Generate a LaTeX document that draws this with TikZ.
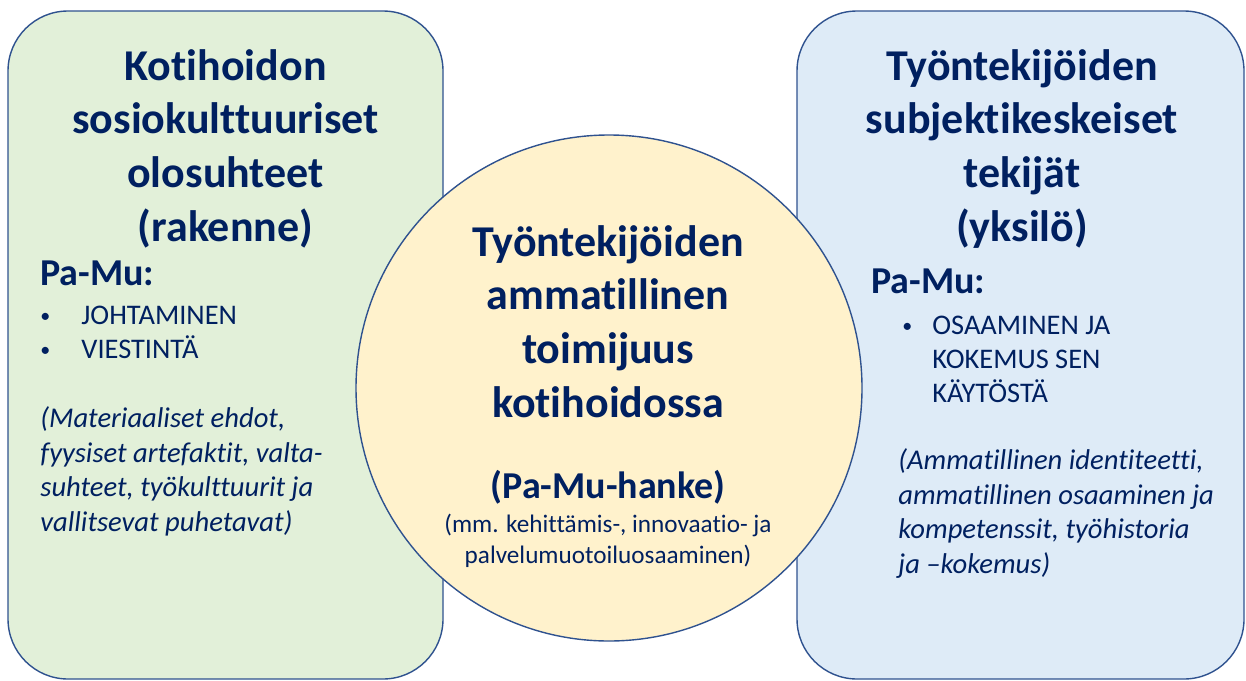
\documentclass[tikz,border=0pt]{standalone}
\usepackage{fontspec}
\setmainfont{Carlito}[Ligatures=NoCommon]
\usetikzlibrary{positioning}
\definecolor{navy}{HTML}{002060}
\definecolor{edge}{HTML}{2F528F}
\definecolor{greenfill}{HTML}{E2F0D9}
\definecolor{bluefill}{HTML}{DEEBF7}
\definecolor{ringfill}{HTML}{FFF2CC}
\newcommand{\dotmark}[1]{\makebox[#1][l]{\raisebox{1pt}{\fontsize{10}{10}\selectfont•}}}

\begin{document}
\begin{tikzpicture}[x=0.5pt,y=-0.5pt,
panel/.style={draw=edge,line width=0.7pt,rounded corners=30pt,inner sep=0pt},
ring/.style={circle,draw=edge,line width=0.7pt,fill=ringfill,inner sep=0pt,minimum size=253pt},
heading/.style={align=center,anchor=base,inner sep=0pt,text=navy,font=\fontsize{22}{26.8}\selectfont\bfseries},
pamu/.style={anchor=base west,inner sep=0pt,text=navy,font=\fontsize{19}{22}\selectfont\bfseries},
items/.style={align=left,anchor=base west,inner sep=0pt,text=navy,font=\fontsize{14.2}{17}\selectfont},
note/.style={align=left,anchor=base west,inner sep=0pt,text=navy,font=\fontsize{14.3}{17.2}\selectfont\itshape},
small/.style={align=center,anchor=base,inner sep=0pt,text=navy,font=\fontsize{12.6}{15.5}\selectfont}]
\useasboundingbox (0,0) rectangle (1246,680);
\node[panel,fill=greenfill,minimum width=217.5pt,minimum height=334pt] (rakenne) at (225.5,345) {};
\node[panel,fill=bluefill,minimum width=223.5pt,minimum height=334pt] (yksilo) at (1020.5,345) {};
\node[ring] (toimijuus) at (609,388) {};
% left panel (base = last line)
\node[heading] (rakennetitle) at (225.5,241) {Kotihoidon\\sosiokulttuuriset\\olosuhteet\\(rakenne)};
\node[pamu] (rakennepamu) at (40,285) {Pa-Mu:};
\node[items] (rakenneitems) at (40,358) {\dotmark{20.5pt}JOHTAMINEN\\\dotmark{20.5pt}VIESTINTÄ};
\node[note] (rakennenote) at (40,531) {(Materiaaliset ehdot,\\fyysiset artefaktit, valta-\\suhteet, työkulttuurit ja\\vallitsevat puhetavat)};
% right panel
\node[heading] (yksilotitle) at (1022,241) {Työntekijöiden\\subjektikeskeiset\\tekijät\\(yksilö)};
\node[pamu] (yksilopamu) at (871,293) {Pa-Mu:};
\node[items] (yksiloitems) at (902,402) {\dotmark{15pt}OSAAMINEN JA\\\hspace*{15pt}KOKEMUS SEN\\\hspace*{15pt}KÄYTÖSTÄ};
\node[note] (yksilonote) at (898,573) {(Ammatillinen identiteetti,\\ammatillinen osaaminen ja\\kompetenssit, työhistoria\\ja –kokemus)};
% centre
\node[heading] (toimijuustitle) at (608,417) {Työntekijöiden\\ammatillinen\\toimijuus\\kotihoidossa};
\node[heading,font=\fontsize{19}{22}\selectfont\bfseries] (hanke) at (608,498) {(Pa-Mu-hanke)};
\node[small] (osaaminen) at (608,563) {(mm. kehittämis-, innovaatio- ja\\palvelumuotoiluosaaminen)};
\end{tikzpicture}
\end{document}
